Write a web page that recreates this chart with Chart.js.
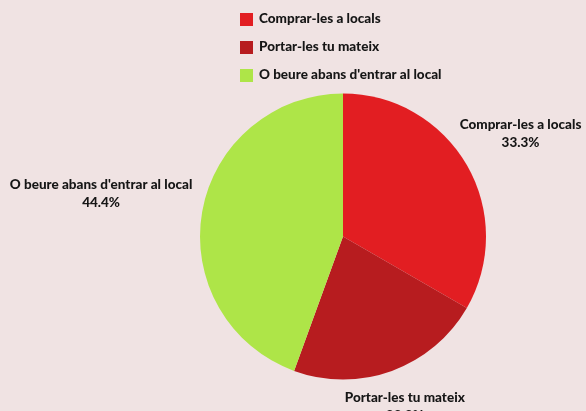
<!DOCTYPE html>
<html>
<head>
<meta charset="utf-8">
<script src="https://cdn.jsdelivr.net/npm/chart.js@4.4.1/dist/chart.umd.min.js"></script>
<style>
  html, body { margin: 0; padding: 0; background: #f0e3e3; }
  #wrap { width: 586px; height: 411px; position: relative; }
</style>
</head>
<body>
<div id="wrap"><canvas id="c" width="586" height="411"></canvas></div>
<script>
// Where people get their drinks
const categories = ['Comprar-les a locals', 'Portar-les tu mateix', "O beure abans d'entrar al local"];
const shares = [33.3, 22.2, 44.4];
const sliceColors = ['#e21e22', '#b71c1f', '#aee548'];

const FONT = 'Lato, "Open Sans", sans-serif';
const WEIGHT = '900';
const INK = '#161616';

// Vertical legend drawn above the pie
const sideLegend = {
  id: 'sideLegend',
  afterDraw(chart) {
    const ctx = chart.ctx;
    ctx.save();
    ctx.font = WEIGHT + ' 13.5px ' + FONT;
    ctx.textBaseline = 'middle';
    ctx.textAlign = 'left';
    categories.forEach((name, i) => {
      const y = 19 + i * 28;
      ctx.fillStyle = sliceColors[i];
      ctx.fillRect(240, y - 6, 13, 13);
      ctx.fillStyle = INK;
      ctx.fillText(name, 259, y);
    });
    ctx.restore();
  }
};

// Name + percentage outside each slice
const outerLabels = {
  id: 'outerLabels',
  afterDatasetsDraw(chart) {
    const ctx = chart.ctx;
    const meta = chart.getDatasetMeta(0);
    ctx.save();
    ctx.font = WEIGHT + ' 13.5px ' + FONT;
    ctx.fillStyle = INK;
    ctx.textAlign = 'center';
    ctx.textBaseline = 'middle';
    const lineH = 18;
    const padY = 8;
    meta.data.forEach((arc, i) => {
      const p = arc.getProps(['x', 'y', 'startAngle', 'endAngle', 'outerRadius'], true);
      const mid = (p.startAngle + p.endAngle) / 2;
      const c = Math.cos(mid), s = Math.sin(mid);
      const dist = p.outerRadius + 10;
      const ax = p.x + c * dist, ay = p.y + s * dist;
      const lines = [categories[i], shares[i].toFixed(1) + '%'];
      const w = Math.max(...lines.map(t => ctx.measureText(t).width));
      const hw = w / 2, hh = lineH + padY;
      const t = Math.min(Math.abs(c) > 1e-6 ? hw / Math.abs(c) : Infinity,
                         Math.abs(s) > 1e-6 ? hh / Math.abs(s) : Infinity);
      const cx = ax + c * t, cy = ay + s * t;
      ctx.fillText(lines[0], cx, cy - lineH / 2);
      ctx.fillText(lines[1], cx, cy + lineH / 2);
    });
    ctx.restore();
  }
};

new Chart(document.getElementById('c'), {
  type: 'pie',
  data: {
    labels: categories,
    datasets: [{
      data: shares,
      backgroundColor: sliceColors,
      borderWidth: 0
    }]
  },
  options: {
    responsive: false,
    animation: false,
    layout: { padding: { top: 93, bottom: 31, left: 200, right: 100 } },
    plugins: {
      legend: { display: false },
      tooltip: { enabled: false }
    }
  },
  plugins: [outerLabels, sideLegend]
});
</script>
</body>
</html>
